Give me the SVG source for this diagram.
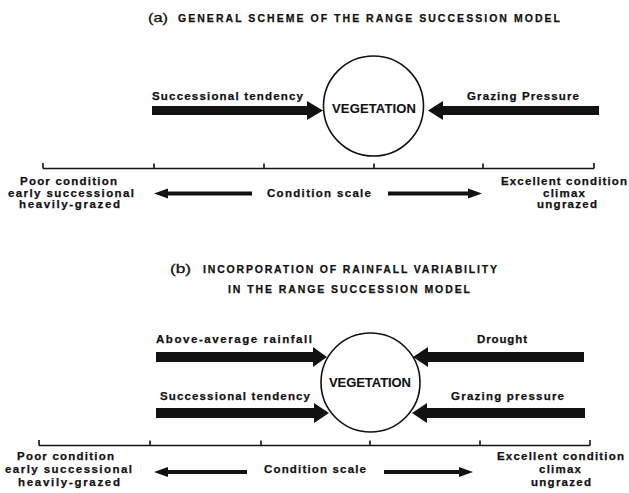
<svg xmlns="http://www.w3.org/2000/svg" width="629" height="493" viewBox="0 0 629 493">
<style>
text{font-family:"Liberation Sans",Arial,Helvetica,sans-serif;font-weight:bold;fill:#111;stroke:#111;stroke-width:0.25}
.t{font-size:10.5px}
.p{font-size:12.5px;font-weight:normal;stroke-width:0.3}
.l{font-size:11.5px}
.v{font-size:13px;stroke-width:0.1}
.node{fill:#fff;stroke:#111;stroke-width:1.6}
.arrow{fill:#111;stroke:none}
.scale{fill:none;stroke:#111;stroke-width:1.6}
</style>
<rect width="629" height="493" fill="#fff"/>

<!-- Part (a) -->
<g id="title-a">
<text class="p" x="148" y="22" textLength="20" lengthAdjust="spacingAndGlyphs">(a)</text>
<text class="t" x="178" y="22" textLength="382" lengthAdjust="spacing">GENERAL SCHEME OF THE RANGE SUCCESSION MODEL</text>
</g>
<g id="vegetation-a">
<circle class="node" cx="373.5" cy="106" r="50"/>
<text class="v" x="332" y="113" textLength="84" lengthAdjust="spacing">VEGETATION</text>
</g>
<g id="label-succ-a"><text class="l" x="152" y="100" textLength="151" lengthAdjust="spacing">Successional tendency</text></g>
<g id="label-grazing-a"><text class="l" x="467" y="100" textLength="112" lengthAdjust="spacing">Grazing Pressure</text></g>
<g id="scale-a">
<path class="scale" d="M43,168.5 H594 M43,163 V168.5 M154,163.5 V168.5 M264,163.5 V168.5 M374,163.5 V168.5 M483,163.5 V168.5 M594,163 V168.5"/>
<text class="l" x="20" y="185" textLength="97" lengthAdjust="spacing">Poor condition</text>
<text class="l" x="8" y="197" textLength="126" lengthAdjust="spacing">early successional</text>
<text class="l" x="19" y="208" textLength="101" lengthAdjust="spacing">heavily-grazed</text>
<text class="l" x="267" y="197" textLength="104" lengthAdjust="spacing">Condition scale</text>
<text class="l" x="501" y="185" textLength="126" lengthAdjust="spacing">Excellent condition</text>
<text class="l" x="543" y="197" textLength="42" lengthAdjust="spacing">climax</text>
<text class="l" x="537" y="208" textLength="60" lengthAdjust="spacing">ungrazed</text>
</g>

<!-- Part (b) -->
<g id="title-b">
<text class="p" x="170" y="273" textLength="21" lengthAdjust="spacingAndGlyphs">(b)</text>
<text class="t" x="203" y="273" textLength="294" lengthAdjust="spacing">INCORPORATION OF RAINFALL VARIABILITY</text>
<text class="t" x="228" y="293" textLength="242" lengthAdjust="spacing">IN THE RANGE SUCCESSION MODEL</text>
</g>
<g id="vegetation-b">
<circle class="node" cx="370.5" cy="382.5" r="49.5"/>
<text class="v" x="329" y="387" textLength="82" lengthAdjust="spacing">VEGETATION</text>
</g>
<g id="label-rain-b"><text class="l" x="156" y="343" textLength="156" lengthAdjust="spacing">Above-average rainfall</text></g>
<g id="label-drought-b"><text class="l" x="477" y="343" textLength="50" lengthAdjust="spacing">Drought</text></g>
<g id="label-succ-b"><text class="l" x="160" y="400" textLength="150" lengthAdjust="spacing">Successional tendency</text></g>
<g id="label-grazing-b"><text class="l" x="451" y="400" textLength="113" lengthAdjust="spacing">Grazing pressure</text></g>
<g id="scale-b">
<path class="scale" d="M39,445.5 H590 M39,440 V445.5 M150,440.5 V445.5 M261,440.5 V445.5 M370,440.5 V445.5 M480,440.5 V445.5 M590,440 V445.5"/>
<text class="l" x="17" y="460" textLength="97" lengthAdjust="spacing">Poor condition</text>
<text class="l" x="5" y="473" textLength="127" lengthAdjust="spacing">early successional</text>
<text class="l" x="18" y="486" textLength="102" lengthAdjust="spacing">heavily-grazed</text>
<text class="l" x="264" y="473" textLength="102" lengthAdjust="spacing">Condition scale</text>
<text class="l" x="497" y="460" textLength="127" lengthAdjust="spacing">Excellent condition</text>
<text class="l" x="539" y="473" textLength="42" lengthAdjust="spacing">climax</text>
<text class="l" x="531" y="486" textLength="60" lengthAdjust="spacing">ungrazed</text>
</g>

<!-- Connectors / arrows -->
<g id="connectors">
<polygon class="arrow" points="152,106 307,106 307,101 323,110.5 307,120 307,115 152,115"/>
<polygon class="arrow" points="599,106 443,106 443,101 428,110.5 443,120 443,115 599,115"/>
<polygon class="arrow" points="154,193.5 168,188.5 168,191.5 252,191.5 252,195.5 168,195.5 168,198.5"/>
<polygon class="arrow" points="482,193.5 468,188.5 468,191.5 388,191.5 388,195.5 468,195.5 468,198.5"/>

<polygon class="arrow" points="156,352 313,352 313,347 327,357 313,367 313,362 156,362"/>
<polygon class="arrow" points="584,352 428,352 428,347 413,357 428,367 428,362 584,362"/>
<polygon class="arrow" points="156,408 314,408 314,403 329,413 314,423 314,418 156,418"/>
<polygon class="arrow" points="585,408 427,408 427,403 412,413 427,423 427,418 585,418"/>
<polygon class="arrow" points="154,472 168,467 168,470 247,470 247,474 168,474 168,477"/>
<polygon class="arrow" points="473,472 459,467 459,470 384,470 384,474 459,474 459,477"/>
</g>
</svg>
